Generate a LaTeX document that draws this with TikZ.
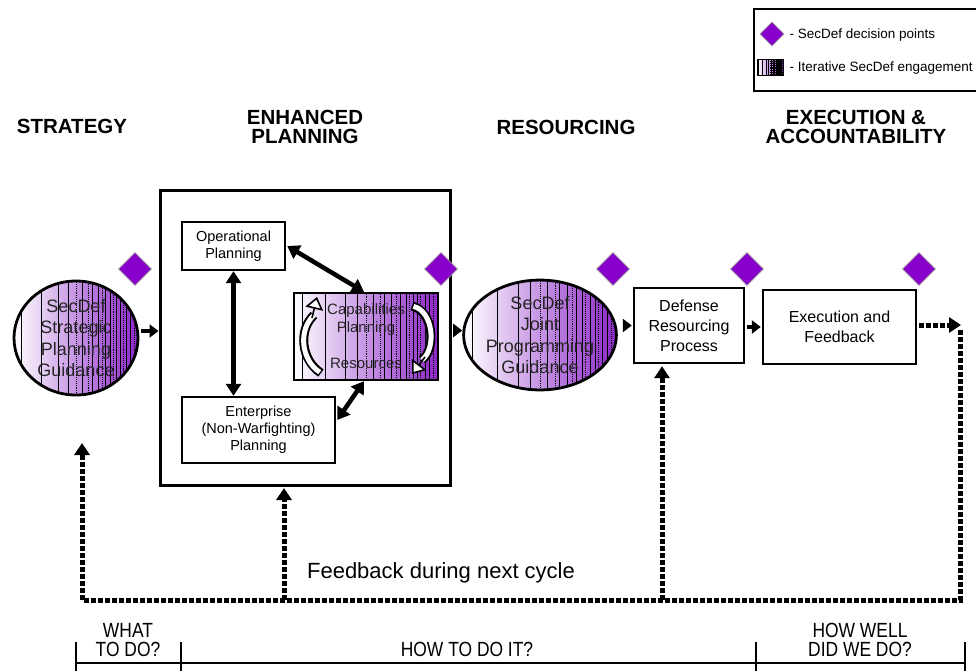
\documentclass[tikz,border=0pt]{standalone}
\usepackage{fontspec}
\setmainfont{Liberation Sans}
\newfontfamily\narrowfont{Liberation Sans}[FakeStretch=0.85]
\usetikzlibrary{shapes.geometric,arrows.meta,calc}

\definecolor{decisionpurple}{RGB}{136,0,204}
\definecolor{engagepurple}{RGB}{140,40,200}

\tikzset{
	barcode/.style={path picture={
		\foreach \f/\s in {0.06/solid,0.22/solid,0.36/solid,0.44/solid,0.5/densely dotted,0.55/solid,0.6/densely dotted,0.63/solid,0.68/solid,0.71/densely dotted,0.74/solid,0.78/solid,0.8/densely dotted,0.83/solid,0.86/solid,0.88/densely dotted,0.91/solid,0.94/solid,0.97/densely dotted}
			\draw[line width=0.9pt,\s] ($(path picture bounding box.south west)!\f!(path picture bounding box.south east)$) -- ($(path picture bounding box.north west)!\f!(path picture bounding box.north east)$);
	}},
	engaged/.style={left color=white, middle color=engagepurple!30, right color=engagepurple, barcode},
	guidance/.style={ellipse, draw, line width=2.8pt, engaged, align=center, inner sep=0pt, text=black!85, font=\fontsize{18}{21.5}\selectfont},
	process/.style={draw, line width=2.4pt, fill=white, align=center, inner sep=0pt, font=\fontsize{14.5}{17}\selectfont},
	decision/.style={diamond, fill=decisionpurple, draw=black!40, line width=0.6pt, minimum width=33pt, minimum height=33pt, inner sep=0pt},
	heading/.style={align=center, font=\fontsize{20.5}{19}\selectfont\bfseries},
	stagearrow/.style={line width=4.5pt, -{Triangle[length=9pt,width=13pt]}},
	linkarrow/.style={line width=4.5pt, {Triangle[length=12pt,width=15pt]}-{Triangle[length=12pt,width=15pt]}},
	feedback/.style={line width=5pt, dash pattern=on 5pt off 2pt},
	feedbackarrow/.style={feedback, -{Triangle[length=12pt,width=15pt]}},
	keytext/.style={anchor=west, font=\fontsize{13.5}{16}\selectfont},
	phase/.style={align=center, font=\narrowfont\fontsize{20.5}{19}\selectfont}
}

\begin{document}
\begin{tikzpicture}[x=1pt,y=-1pt]
	\useasboundingbox (0,0) rectangle (976,670);

	% key
	\draw[line width=1.2pt] (980,9) -- (754,9) -- (754,91) -- (980,91);
	\node[decision, minimum width=24pt, minimum height=24pt] (keydecision) at (772,34) {};
	\node[keytext] at (786,35) {- SecDef decision points};
	\node[draw, engaged, minimum width=26pt, minimum height=16pt, inner sep=0pt] (keyengage) at (770,67) {};
	\node[keytext] at (786,68) {- Iterative SecDef engagement};

	% phase headings
	\node[heading] (hstrategy) at (72,126) {STRATEGY};
	\node[heading] (hplanning) at (305,127) {ENHANCED\\PLANNING};
	\node[heading] (hresourcing) at (566,127) {RESOURCING};
	\node[heading] (hexecution) at (856,127) {EXECUTION \&\\ACCOUNTABILITY};

	% stages
	\node[guidance, minimum width=124pt, minimum height=114pt] (spg) at (76,338) {SecDef\\Strategic\\Planning\\Guidance};
	\node[draw, line width=3pt, minimum width=290pt, minimum height=295pt] (plan) at (305,337.5) {};
	\node[process, minimum width=103pt, minimum height=48pt] (op) at (233.5,246) {Operational\\Planning};
	\node[draw, line width=2.4pt, engaged, align=center, inner sep=0pt, text=black!85, font=\fontsize{15}{18}\selectfont, minimum width=144pt, minimum height=87pt] (cap) at (366,336.5) {Capabilities\\Planning\\[18pt]Resources};
	\node[process, minimum width=153pt, minimum height=66pt] (ent) at (258.5,430) {Enterprise\\(Non-Warfighting)\\Planning};
	\node[guidance, minimum width=124pt, minimum height=108pt] (jpg) at (540,335) {SecDef\\Joint\\Programming\\Guidance};
	\node[process, font=\fontsize{16}{20}\selectfont, minimum width=110pt, minimum height=75pt] (drp) at (689,325.5) {Defense\\Resourcing\\Process};
	\node[process, font=\fontsize{16}{20}\selectfont, minimum width=153pt, minimum height=74pt] (exec) at (839.5,327) {Execution and\\Feedback};

	% decision points
	\node[decision] (d1) at (135,269) {};
	\node[decision] (d2) at (441,269) {};
	\node[decision] (d3) at (613,269) {};
	\node[decision] (d4) at (747,269) {};
	\node[decision] (d5) at (919,269) {};

	% iteration arrows in capabilities box
	\draw[line width=9pt] (321,373) .. controls (301,360) and (298,330) .. (314,315);
	\draw[white, line width=5pt, shorten <=1.5pt] (321,373) .. controls (301,360) and (298,330) .. (314,315);
	\draw[line width=1.6pt, -{Triangle[open, fill=white, length=12pt, width=18pt]}] (312,318) -- (317,297);
	\draw[line width=9pt] (412,306) .. controls (433,311) and (437,348) .. (422,360);
	\draw[white, line width=5pt, shorten <=1.5pt] (412,306) .. controls (433,311) and (437,348) .. (422,360);
	\draw[line width=1.6pt, -{Triangle[open, fill=white, length=12pt, width=18pt]}] (425,357) -- (412,374);

	% links
	\draw[linkarrow] (op.south) -- (op.south |- ent.north);
	\draw[linkarrow] ([xshift=1pt]op.east) -- ([xshift=-2pt]cap.north);
	\draw[linkarrow] ([xshift=1pt,yshift=10pt]ent.east) -- ([xshift=-2pt]cap.south);

	% flow
	\draw[stagearrow] ([xshift=2pt,yshift=7pt]spg.east) -- ([yshift=7pt]spg.east -| plan.west);
	\draw[stagearrow] ([xshift=4pt,yshift=7pt]plan.east) -- ([yshift=7pt]plan.east -| jpg.west);
	\draw[stagearrow] ([xshift=10pt]jpg.east |- drp.west) -- ([xshift=-1pt]drp.west);
	\draw[stagearrow] ([xshift=2pt]drp.east |- exec.west) -- ([xshift=-1pt]exec.west);

	% feedback loop
	\coordinate (loopne) at (960,325);
	\coordinate (loopse) at (960,600);
	\coordinate (loopsw) at (82,600);
	\coordinate (stratfeed) at (82,443);
	\coordinate (planfeed) at (284,600);
	\coordinate (resfeed) at (662,600);
	\draw[feedbackarrow] ([xshift=2pt]exec.east |- loopne) -- ([xshift=1pt]loopne);
	\draw[feedback] ([yshift=-5pt]loopne) -- (loopse) -- (loopsw);
	\draw[feedbackarrow] (loopsw) -- (stratfeed);
	\draw[feedbackarrow] (planfeed) -- ([yshift=-1.5pt]planfeed |- plan.south);
	\draw[feedbackarrow] (resfeed) -- ([yshift=-2pt]resfeed |- drp.south);
	\node[font=\fontsize{22}{24}\selectfont] (fbtext) at (441,573) {Feedback during next cycle};

	% question bar
	\draw[line width=2.5pt] (76,663) -- (965,663);
	\foreach \x in {76,181,756,965}
		\draw[line width=1.2pt] (\x,642) -- (\x,672);
	\node[phase] (qwhat) at (128,640) {WHAT\\TO DO?};
	\node[phase] (qhow) at (467,649.5) {HOW TO DO IT?};
	\node[phase] (qwell) at (860,640) {HOW WELL\\DID WE DO?};
\end{tikzpicture}
\end{document}
